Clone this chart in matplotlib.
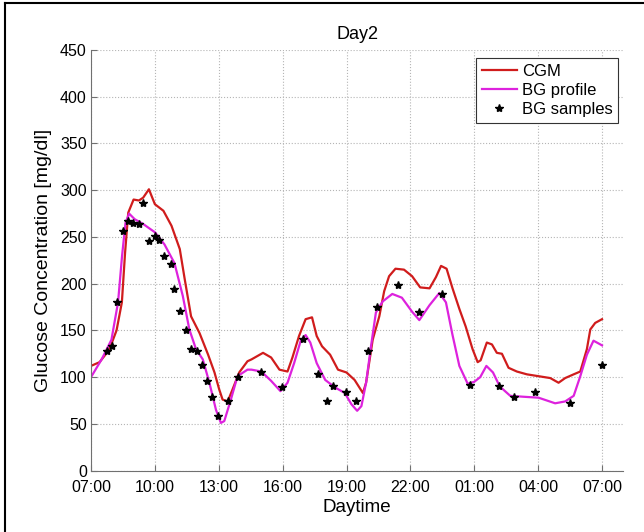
import matplotlib
matplotlib.use("Agg")
import matplotlib.pyplot as plt
from matplotlib.lines import Line2D
import numpy as np

plt.rcParams['font.family'] = ['Liberation Sans', 'DejaVu Sans']

# hours after 07:00
cgm_t = [0.0, 0.4, 0.85, 1.2, 1.45, 1.6, 1.75, 2.0, 2.25, 2.45, 2.72, 3.0, 3.4, 3.78,
         4.17, 4.4, 4.7, 5.1, 5.5, 5.8, 6.02, 6.18, 6.42, 6.65, 6.96, 7.35, 7.54, 8.08,
         8.46, 8.85, 9.23, 9.46, 9.77, 10.08, 10.38, 10.6, 10.85, 11.23, 11.6, 12.0,
         12.38, 12.77, 12.92, 13.23, 13.54, 13.77, 14.0, 14.3, 14.7, 15.08, 15.46, 15.9,
         16.2, 16.44, 16.7, 16.98, 17.3, 17.6, 17.92, 18.16, 18.3, 18.59, 18.83, 19.06,
         19.3, 19.61, 20.0, 20.47, 21.02, 21.57, 21.96, 22.27, 22.67, 22.98, 23.29,
         23.45, 23.68, 24.0]
cgm_v = [112, 116, 129, 150, 180, 233, 276, 290, 289, 292, 301, 285, 278, 262,
         237, 205, 165, 147, 124, 105, 87, 76, 74, 87, 105, 117, 119, 126,
         121, 108, 106, 121, 144, 162, 164, 144, 133, 124, 108, 105,
         97, 83, 94, 140, 165, 192, 208, 216, 215, 208, 196, 195,
         207, 219, 216, 195, 173, 154, 130, 116, 118, 137, 135, 126,
         125, 110, 106, 103, 101, 99, 94, 99, 103, 106, 130,
         151, 158, 162]

bg_t = [0.0, 0.5, 0.96, 1.27, 1.46, 1.62, 1.79, 2.05, 2.44, 3.0, 3.45, 3.92, 4.31,
        4.62, 4.93, 5.25, 5.56, 5.87, 6.1, 6.26, 6.57, 6.88, 7.35, 7.54, 8.0, 8.46,
        8.9, 9.23, 9.54, 9.85, 10.08, 10.3, 10.6, 11.0, 11.46, 11.92, 12.23, 12.5,
        12.7, 12.92, 13.15, 13.38, 13.7, 14.15, 14.6, 15.08, 15.42, 15.9, 16.36,
        16.67, 16.98, 17.3, 17.69, 18.0, 18.28, 18.57, 18.88, 19.2, 19.69, 20.32,
        21.02, 21.41, 21.8, 22.27, 22.67, 22.98, 23.29, 23.6, 23.92, 24.0]
bg_v = [100, 119, 140, 180, 230, 265, 275, 269, 264, 255, 242, 222, 187,
        151, 130, 119, 94, 65, 51, 53, 76, 101, 108, 108, 106, 96,
        85, 94, 115, 139, 145, 137, 115, 97, 89, 83, 71, 64,
        69, 94, 133, 169, 181, 189, 185, 170, 161, 177, 190,
        180, 145, 112, 93, 95, 100, 112, 105, 90, 80, 79,
        78, 75, 72, 74, 80, 101, 124, 139, 135, 134]

smp_t = [0.73, 0.99, 1.24, 1.49, 1.74, 1.99, 2.24, 2.46, 2.71, 2.99, 3.21, 3.45, 3.74,
         3.92, 4.2, 4.44, 4.7, 4.97, 5.2, 5.45, 5.67, 5.95, 6.45, 6.91, 8.0, 8.97,
         9.97, 10.65, 11.08, 11.35, 11.97, 12.43, 13.0, 13.43, 14.43, 15.42, 16.48,
         17.81, 19.15, 19.85, 20.83, 22.51, 24.0]
smp_v = [128, 133, 180, 256, 267, 265, 264, 286, 246, 251, 247, 230, 221,
         194, 171, 150, 130, 128, 113, 96, 79, 58, 74, 100, 106, 89,
         141, 103, 75, 90, 84, 74, 128, 175, 199, 170, 189,
         92, 90, 79, 84, 72, 113]

xtick_pos = [0, 3, 6, 9, 12, 15, 18, 21, 24]
xtick_lab = ['07:00', '10:00', '13:00', '16:00', '19:00', '22:00', '01:00', '04:00', '07:00']

fig = plt.figure(figsize=(6.44, 5.32), dpi=100)
ax = fig.add_axes([91/644, 1 - 470.6/532, 532.3/644, 420.6/532])

ax.plot(cgm_t, cgm_v, color='#d01c1c', lw=1.6, label='CGM', solid_joinstyle='round')
ax.plot(bg_t, bg_v, color='#dd22dd', lw=1.6, label='BG profile', solid_joinstyle='round')
ax.plot(smp_t, smp_v, 'k*', ms=6, label='BG samples')

ax.set_xlim(0, 25)
ax.set_ylim(0, 450)
ax.set_xticks(xtick_pos)
ax.set_xticklabels(xtick_lab)
ax.set_yticks(np.arange(0, 451, 50))
ax.tick_params(direction='in', length=4, color='#707070', labelsize=11.5, pad=3)
ax.tick_params(axis='x', pad=6.5)
for s in ['top', 'right']:
    ax.spines[s].set_visible(False)
for s in ['left', 'bottom']:
    ax.spines[s].set_color('#707070')
ax.grid(True, linestyle=':', color='#b5b5b5', lw=0.8)
ax.set_axisbelow(True)

ax.set_title('Day2', fontsize=13, pad=8)
ax.set_xlabel('Daytime', fontsize=13.5, labelpad=3)
ax.set_ylabel('Glucose Concentration [mg/dl]', fontsize=14, labelpad=6)

leg = ax.legend(loc='upper right', bbox_to_anchor=(1 - 5/532, 1 - 8/420.6), borderaxespad=0,
                fontsize=12, numpoints=1, handlelength=2.1, handletextpad=0.3,
                labelspacing=0.25, borderpad=0.35, fancybox=False, framealpha=1)
leg.get_frame().set_edgecolor('#333333')
leg.get_frame().set_linewidth(0.8)

fig.add_artist(Line2D([5/644, 5/644], [0, 1 - 3/532], transform=fig.transFigure, color='k', lw=1.5))
fig.add_artist(Line2D([5/644, 1], [1 - 3/532, 1 - 3/532], transform=fig.transFigure, color='k', lw=1.5))

fig.savefig('out.png', dpi=100)
